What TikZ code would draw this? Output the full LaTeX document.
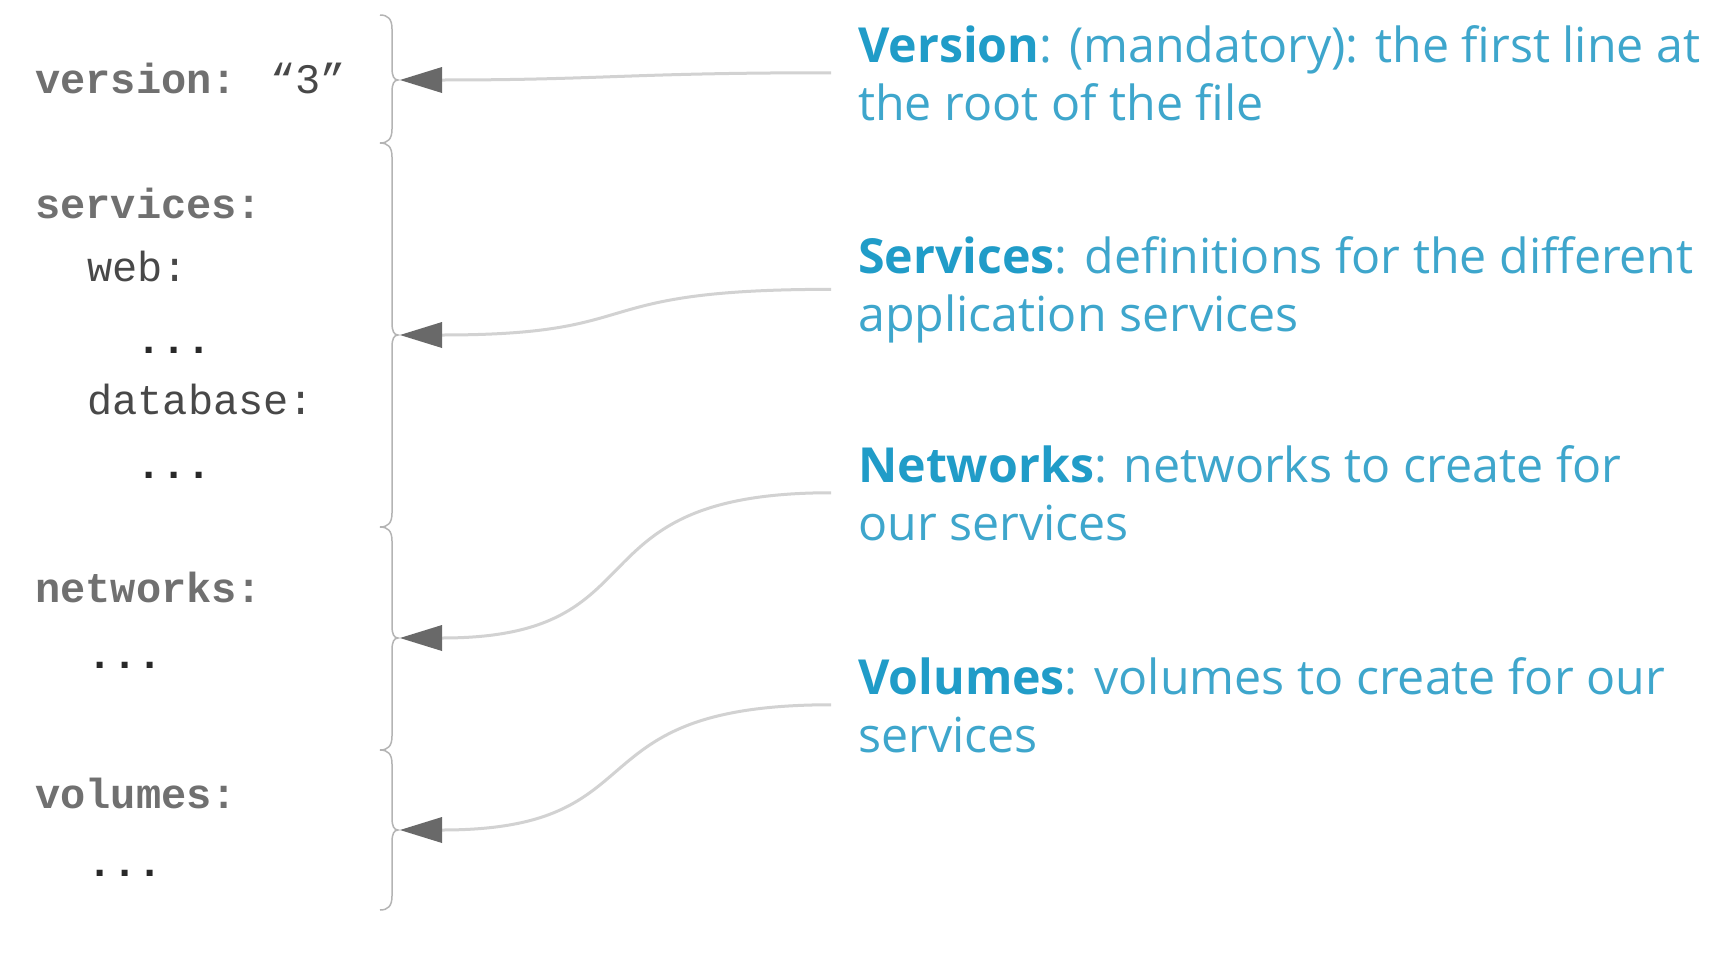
\documentclass[tikz,border=0pt]{standalone}
\usepackage{fontspec}
\usetikzlibrary{arrows.meta}
\newfontfamily\osans{Open Sans}
\newfontfamily\cmono{Liberation Mono}
\definecolor{headblue}{RGB}{32,156,200}
\definecolor{bodyblue}{RGB}{62,166,204}
\definecolor{keygray}{RGB}{112,112,112}
\definecolor{subgray}{RGB}{72,72,72}
\definecolor{dotgray}{RGB}{40,40,40}
\definecolor{bracegray}{RGB}{180,180,180}
\definecolor{linegray}{RGB}{210,210,210}
\definecolor{headgray}{RGB}{105,105,105}
\newcommand\bracesegment[3]{%
  \draw[bracestyle] (380,#1) .. controls (388,#1) and (392,#1+4) .. (392,#1+14)
    -- (392,#2-12) .. controls (392,#2-4) and (394,#2) .. (398,#2)
    .. controls (394,#2) and (392,#2+4) .. (392,#2+12)
    -- (392,#3-14) .. controls (392,#3-4) and (388,#3) .. (380,#3);}
\begin{document}
\begin{tikzpicture}[x=1pt,y=-1pt,
  code/.style={anchor=base west, inner sep=0pt, text=subgray,
    font=\cmono\fontsize{42}{50}\selectfont},
  key/.style={code, text=keygray, font=\cmono\bfseries\fontsize{42}{50}\selectfont},
  dots/.style={code, text=dotgray, font=\cmono\bfseries\fontsize{42}{50}\selectfont},
  desc/.style={anchor=base west, inner xsep=27pt, inner ysep=0pt, align=left,
    text=bodyblue, font=\osans\fontsize{48.3}{58}\selectfont},
  bracestyle/.style={draw=bracegray, line width=1.5pt},
  connector/.style={draw=linegray, line width=3pt,
    -{Triangle[length=42pt,width=26pt,color=headgray,line width=0pt]}}]
\useasboundingbox (0,0) rectangle (1710,961);
\fill[white] (0,0) rectangle (1710,961);

% code listing
\node[key] (kversion) at (35,93) {version: \textcolor{subgray}{\mdseries “3”}};
\node[key] (kservices) at (35,218) {services:};
\node[code] (kweb) at (87,281) {web:};
\node[dots] (d1) at (136,353) {...};
\node[code] (kdb) at (87,414) {database:};
\node[dots] (d2) at (136,478) {...};
\node[key] (knetworks) at (35,602) {networks:};
\node[dots] (d3) at (87,668) {...};
\node[key] (kvolumes) at (35,808) {volumes:};
\node[dots] (d4) at (87,876) {...};

% braces
\bracesegment{15}{80}{143}
\bracesegment{143}{335}{527}
\bracesegment{527}{638}{750}
\bracesegment{750}{830}{910}

\coordinate (vtip) at (400,80);
\coordinate (stip) at (400,335);
\coordinate (ntip) at (400,638);
\coordinate (wtip) at (400,830);

% descriptions (anchored at the baseline of their last line)
\node[desc] (vdesc) at (831,120) {{\bfseries\color{headblue}Version}: (mandatory): the first line at\\the root of the file};
\node[desc] (sdesc) at (831,331) {{\bfseries\color{headblue}Services}: definitions for the different\\application services};
\node[desc] (ndesc) at (831,540) {{\bfseries\color{headblue}Networks}: networks to create for\\our services};
\node[desc] (wdesc) at (831,752) {{\bfseries\color{headblue}Volumes}: volumes to create for our\\services};

% connectors
\draw[connector] (vdesc.west) to[out=180,in=0,looseness=1.2] (vtip);
\draw[connector] (sdesc.west) to[out=180,in=0,looseness=1.5] (stip);
\draw[connector] (ndesc.west) to[out=180,in=0,looseness=1.5] (ntip);
\draw[connector] (wdesc.west) to[out=180,in=0,looseness=1.5] (wtip);
\end{tikzpicture}
\end{document}
